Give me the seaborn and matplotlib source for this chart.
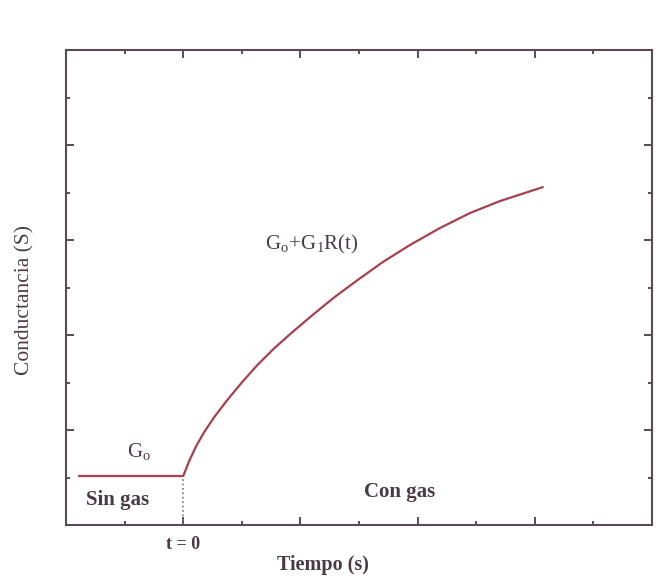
import numpy as np
import pandas as pd
import matplotlib
matplotlib.use('Agg')
import matplotlib.pyplot as plt
import seaborn as sns

# valeurs (unites arbitraires)
t_sin_gas = [0.11, 1.0]
g_sin_gas = [0.516, 0.516]
t_con_gas = [1.0, 1.051, 1.111, 1.179, 1.265, 1.376, 1.496, 1.632, 1.778,
             1.932, 2.103, 2.291, 2.487, 2.701, 2.932, 3.188, 3.444, 3.701, 4.068]
g_con_gas = [0.516, 0.674, 0.832, 0.979, 1.137, 1.316, 1.495, 1.684, 1.863,
             2.032, 2.211, 2.400, 2.579, 2.768, 2.947, 3.126, 3.284, 3.411, 3.558]
t_cero = 1.0
x_major = [0, 1, 2, 3, 4, 5]
y_major = [0, 1, 2, 3, 4, 5]

sns.set_style('ticks')
plt.rcParams['font.family'] = ['Liberation Serif', 'DejaVu Serif']
plt.rcParams['mathtext.fontset'] = 'custom'
plt.rcParams['mathtext.rm'] = 'Liberation Serif'
plt.rcParams['mathtext.it'] = 'Liberation Serif'

col_curva = '#a8404c'
col_marco = '#5a4a55'
col_texto = '#4a3a45'

df = pd.DataFrame({
    't': t_sin_gas + t_con_gas,
    'G': g_sin_gas + g_con_gas,
    'tramo': ['sin'] * len(t_sin_gas) + ['con'] * len(t_con_gas),
})

fig = plt.figure(figsize=(6.62, 5.84), dpi=100)
ax = fig.add_axes([0.0997, 0.101, 0.8853, 0.813])

sns.lineplot(data=df, x='t', y='G', units='tramo', estimator=None,
             color=col_curva, lw=1.6, ax=ax, sort=False,
             solid_joinstyle='round', solid_capstyle='round')
ax.plot([t_cero, t_cero], [0, g_sin_gas[-1]], ls=':', color='#777777', lw=1.2)

ax.set_xlim(0, 5)
ax.set_ylim(0, 5)
ax.set_xticks(x_major)
ax.set_yticks(y_major)
ax.set_xticks(np.arange(0.5, 5, 1), minor=True)
ax.set_yticks(np.arange(0.5, 5, 1), minor=True)
ax.tick_params(which='both', direction='in', top=True, right=True,
               labelbottom=False, labelleft=False, color=col_marco)
ax.tick_params(which='major', length=6, width=1.4)
ax.tick_params(which='minor', length=3, width=1.4)
for s in ax.spines.values():
    s.set_color(col_marco)
    s.set_linewidth(1.5)
ax.set_xlabel('')
ax.set_ylabel('')

ax.text(0.62, 0.72, r'$\mathrm{G_o}$', fontsize=15, color=col_texto, ha='center')
ax.text(2.1, 2.9, r'$\mathrm{G_o\!+\!G_1R(t)}$', fontsize=15, color=col_texto, ha='center')
ax.text(0.44, 0.26, 'Sin gas', fontsize=15, fontweight='bold', color=col_texto, ha='center', va='center')
ax.text(2.85, 0.35, 'Con gas', fontsize=15, fontweight='bold', color=col_texto, ha='center', va='center')
ax.text(t_cero, -0.21, 't = 0', fontsize=13, fontweight='bold', color=col_texto, ha='center', va='center')
fig.text(323 / 662, 1 - 565 / 584, 'Tiempo (s)', fontsize=14.5, fontweight='bold',
         color=col_texto, ha='center', va='center')
fig.text(25 / 662, 1 - 300 / 584, 'Conductancia (S)', fontsize=15.5, rotation=90,
         color=col_texto, ha='center', va='center')

plt.savefig('out.png', dpi=100)
